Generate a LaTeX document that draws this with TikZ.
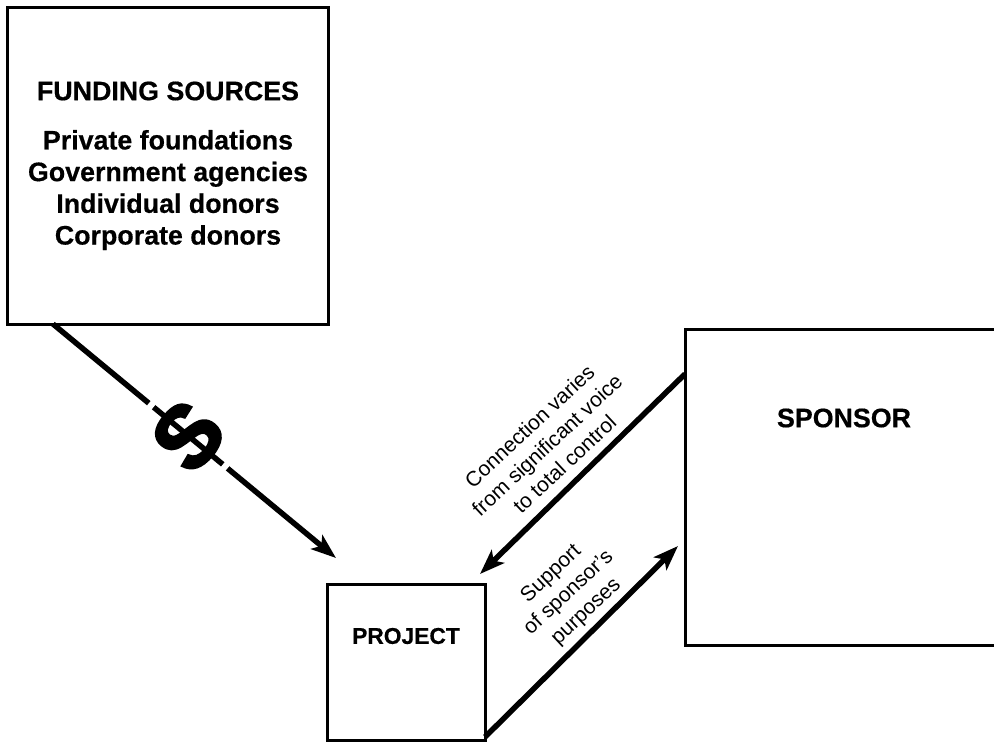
\documentclass[tikz,border=0pt]{standalone}
\usepackage{fontspec}
\setmainfont{Liberation Sans}[BoldFeatures={FakeBold=0.5}]
\newfontfamily\heavyfont{Liberation Sans}[BoldFeatures={FakeBold=2.5}]
\usetikzlibrary{arrows.meta}
\tikzset{
	box/.style={draw, line width=3pt, inner sep=0pt, outer sep=0pt, anchor=north west},
	flow/.style={line width=5.5pt, -{Stealth[length=25pt, width=18pt, inset=6pt]}},
	note/.style={font=\fontsize{21}{25.7}\selectfont, align=center, rotate=43},
	heading/.style={font=\bfseries\fontsize{26.8}{31.7}\selectfont, align=center}
}
\begin{document}
\begin{tikzpicture}[x=1pt, y=1pt]
	\useasboundingbox (0,0) rectangle (994,-742);
	\node [box, minimum width=321pt, minimum height=317pt] (funding) at (7,-7) {};
	\node [box, minimum width=322pt, minimum height=316pt] (sponsor) at (685,-329) {};
	\node [box, minimum width=158pt, minimum height=156pt] (project) at (327,-584) {};

	\node [heading] (fundingtitle) at (168,-91) {FUNDING SOURCES};
	\node [heading, anchor=north] (fundinglist) at (168,-126.5) {Private foundations\\Government agencies\\Individual donors\\Corporate donors};
	\node [heading] (sponsortitle) at (844,-418) {SPONSOR};
	\node [heading, font=\bfseries\fontsize{22.8}{26}\selectfont] (projecttitle) at (406,-636) {PROJECT};

	% money line, broken up around the sign
	\node [font=\bfseries\heavyfont\fontsize{88}{88}\selectfont, rotate=50, inner sep=0pt] (money) at (188,-436) {S};
	\draw [flow] ([xshift=46pt] funding.south west) -- ([xshift=9pt, yshift=26pt] project.north west);
	\foreach \gapstart/\gapend in {-51/-45, 45/51}{%
		\draw [white, line width=8pt] ([shift={(\gapstart*0.77, \gapstart*-0.638)}] money.center) -- ([shift={(\gapend*0.77, \gapend*-0.638)}] money.center);
	}

	\draw [flow] ([yshift=-45pt] sponsor.north west) -- ([xshift=153pt, yshift=10pt] project.north west);
	\draw [flow] ([yshift=3pt] project.south east) -- ([xshift=-7pt, yshift=-217pt] sponsor.north west);

	\node [note] (voicenote) at (547,-445) {Connection varies\\from significant voice\\to total control};
	\node [note] (supportnote) at (569,-593) {Support\\of sponsor's\\purposes};
\end{tikzpicture}
\end{document}
